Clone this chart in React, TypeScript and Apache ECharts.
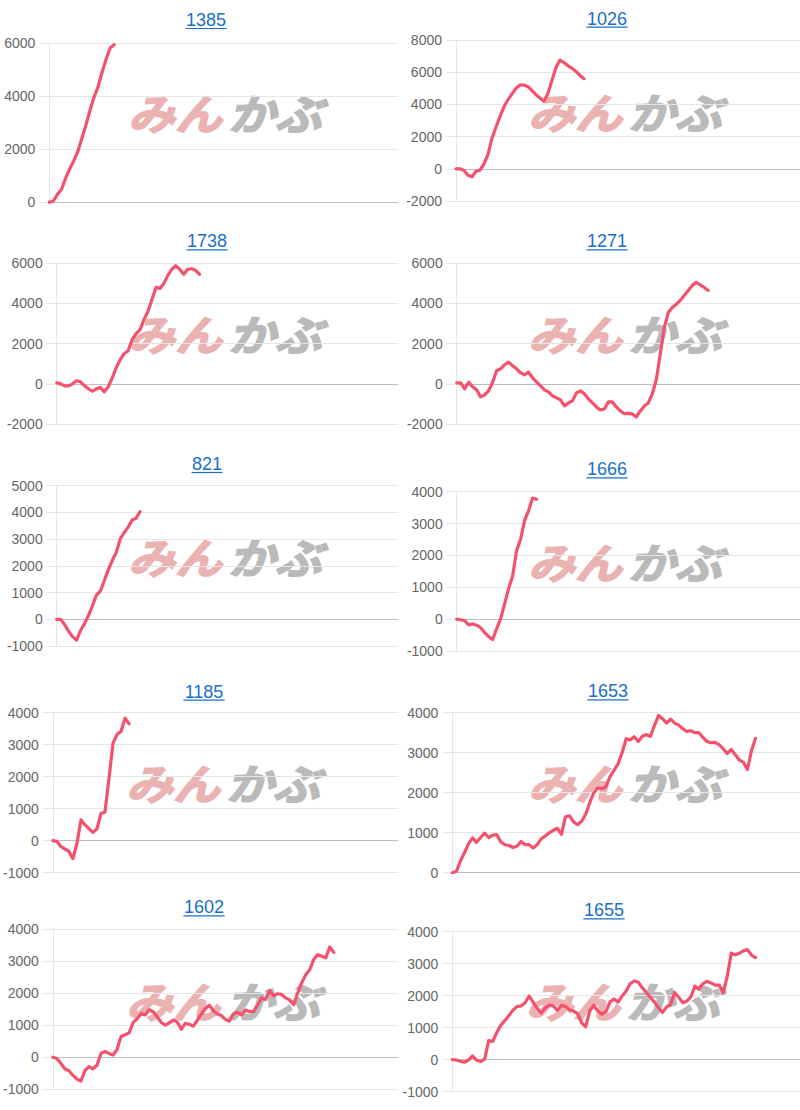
import React, { useEffect, useRef } from "react";
import * as echarts from "echarts";

// ---- data ----
const days = Array.from({ length: 87 }, (_, i) => String(i + 1));
const titles = ["1385", "1026", "1738", "1271", "821", "1666", "1185", "1653", "1602", "1655"];

const s1385 = [0, 50, 300, 480, 900, 1250, 1550, 1900, 2400, 2900, 3450, 3950, 4350, 4900, 5400, 5820, 5950];
const s1026 = [0, 0, -100, -400, -500, -150, -80, 300, 900, 1900, 2600, 3250, 3850, 4300, 4650, 5000, 5200, 5200, 5100, 4850, 4600, 4400, 4200, 4700, 5500, 6300, 6750, 6600, 6400, 6250, 6050, 5800, 5600];
const s1738 = [50, 0, -100, -100, 0, 150, 100, -100, -250, -370, -250, -180, -400, -150, 300, 800, 1200, 1500, 1650, 2200, 2500, 2700, 3200, 3600, 4200, 4800, 4750, 5000, 5400, 5700, 5880, 5700, 5450, 5700, 5730, 5650, 5450];
const s1271 = [50, 50, -250, 80, -150, -300, -650, -550, -350, 80, 650, 750, 950, 1080, 900, 750, 550, 450, 580, 300, 100, -100, -300, -400, -600, -700, -800, -1100, -950, -850, -450, -350, -500, -750, -950, -1150, -1300, -1250, -900, -900, -1150, -1350, -1480, -1470, -1500, -1650, -1350, -1100, -950, -500, 200, 1500, 2800, 3550, 3800, 3950, 4150, 4400, 4650, 4900, 5050, 4930, 4800, 4650];
const s821 = [0, 0, -200, -450, -650, -780, -420, -170, 140, 500, 900, 1050, 1450, 1850, 2200, 2500, 3000, 3250, 3450, 3720, 3780, 4030];
const s1666 = [0, -20, -50, -180, -150, -190, -270, -420, -550, -640, -300, 0, 480, 950, 1350, 2150, 2500, 3100, 3400, 3800, 3760];
const s1185 = [0, -20, -180, -260, -330, -560, -100, 650, 500, 380, 260, 370, 850, 900, 1950, 3050, 3320, 3420, 3830, 3650];
const s1653 = [0, 30, 290, 500, 720, 870, 760, 880, 990, 880, 940, 950, 770, 700, 680, 630, 660, 780, 700, 700, 620, 700, 850, 920, 1000, 1060, 1110, 960, 1400, 1420, 1270, 1200, 1290, 1460, 1750, 2000, 2120, 2100, 2150, 2400, 2560, 2720, 3000, 3350, 3320, 3400, 3280, 3410, 3450, 3410, 3680, 3930, 3850, 3740, 3840, 3740, 3690, 3600, 3530, 3550, 3500, 3500, 3380, 3280, 3250, 3260, 3200, 3100, 2980, 3080, 2950, 2820, 2760, 2580, 3050, 3360];
const s1602 = [0, -40, -190, -360, -420, -560, -680, -740, -420, -290, -360, -250, 120, 180, 120, 70, 240, 650, 700, 760, 1080, 1200, 1360, 1320, 1480, 1420, 1260, 1090, 1000, 1070, 1160, 1100, 870, 1060, 1030, 970, 1150, 1350, 1520, 1620, 1450, 1350, 1300, 1180, 1130, 1350, 1400, 1320, 1470, 1430, 1420, 1620, 1850, 1800, 2080, 1920, 1980, 1960, 1850, 1790, 1640, 2000, 2320, 2570, 2730, 3050, 3200, 3150, 3100, 3440, 3270];
const s1655 = [0, -10, -50, -80, -10, 120, -10, -60, 20, 600, 570, 850, 1080, 1220, 1380, 1550, 1660, 1680, 1780, 1990, 1800, 1600, 1460, 1620, 1710, 1680, 1540, 1700, 1660, 1560, 1520, 1440, 1150, 1030, 1530, 1700, 1520, 1420, 1500, 1800, 1900, 1800, 1990, 2150, 2380, 2460, 2420, 2250, 2100, 1950, 1800, 1620, 1480, 1650, 1730, 2100, 1950, 1780, 1830, 1960, 2300, 2200, 2380, 2450, 2400, 2330, 2330, 2100, 2600, 3330, 3280, 3330, 3400, 3440, 3270, 3190];

const seriesData = [s1385, s1026, s1738, s1271, s821, s1666, s1185, s1653, s1602, s1655];
const yMin = [0, -2000, -2000, -2000, -1000, -1000, -1000, 0, -1000, -1000];
const yMax = [6000, 8000, 6000, 6000, 5000, 4000, 4000, 4000, 4000, 4000];
const yStep = [2000, 2000, 2000, 2000, 1000, 1000, 1000, 1000, 1000, 1000];

// ---- layout (pixels) ----
const layout = [
  { gl: 49.3, gt: 43.3, gb: 202.3, gr: 398, tx: 206, ty: 20, wx: 128, wy: 112 },
  { gl: 456, gt: 40, gb: 201, gr: 800, tx: 607, ty: 18.7, wx: 528, wy: 111 },
  { gl: 56.7, gt: 263.3, gb: 424, gr: 398, tx: 207, ty: 241.3, wx: 128, wy: 333 },
  { gl: 456.7, gt: 263.3, gb: 424, gr: 800, tx: 607, ty: 241.3, wx: 528, wy: 333 },
  { gl: 56.7, gt: 485.7, gb: 646, gr: 398, tx: 207, ty: 464, wx: 128, wy: 556 },
  { gl: 456.7, gt: 491.7, gb: 651, gr: 800, tx: 607, ty: 469.3, wx: 528, wy: 561 },
  { gl: 52.3, gt: 712.7, gb: 872.7, gr: 398, tx: 204, ty: 691.7, wx: 126, wy: 782 },
  { gl: 452.3, gt: 712.7, gb: 872.7, gr: 800, tx: 608, ty: 691.3, wx: 528, wy: 782 },
  { gl: 52.3, gt: 929, gb: 1089.3, gr: 398, tx: 204, ty: 907.3, wx: 126, wy: 1000 },
  { gl: 452.3, gt: 931.7, gb: 1091.7, gr: 800, tx: 604, ty: 910.3, wx: 526, wy: 1000 },
];

const LINE = "#f4516c";
const GRID = "#e6e6e6";
const ZERO = "#bdbdbd";
const LINK = "#1a6fc9";
const FONT = "Arial, 'Liberation Sans', Helvetica, sans-serif";

export default function App() {
  const ref = useRef<HTMLDivElement>(null);

  useEffect(() => {
    if (!ref.current) return;
    const chart = echarts.init(ref.current, undefined, { renderer: "svg" });

    const grid = layout.map((l) => ({
      left: l.gl,
      top: l.gt,
      width: l.gr - l.gl,
      height: l.gb - l.gt,
      containLabel: false,
    }));

    const xAxis = layout.map((_, i) => ({
      type: "category",
      gridIndex: i,
      data: days,
      boundaryGap: false,
      axisLabel: { show: false },
      axisTick: { show: false },
      splitLine: { show: false },
      axisLine: { show: true, onZero: true, lineStyle: { color: ZERO, width: 1 } },
    }));

    const yAxis = layout.map((_, i) => ({
      type: "value",
      gridIndex: i,
      min: yMin[i],
      max: yMax[i],
      interval: yStep[i],
      axisLine: { show: true, lineStyle: { color: GRID, width: 1 } },
      axisTick: { show: true, length: 10, lineStyle: { color: GRID } },
      splitLine: { show: true, lineStyle: { color: GRID, width: 1 } },
      axisLabel: {
        color: "#666",
        fontSize: 14,
        fontFamily: FONT,
        margin: 14,
        formatter: (v: number) => String(v),
      },
    }));

    const series = seriesData.map((d, i) => ({
      type: "line",
      xAxisIndex: i,
      yAxisIndex: i,
      data: d,
      showSymbol: false,
      symbol: "none",
      z: 5,
      lineStyle: { color: LINE, width: 3.2, join: "round", cap: "round" },
      itemStyle: { color: LINE },
    }));

    const title = titles.map((t, i) => ({
      text: t,
      left: layout[i].tx,
      top: layout[i].ty,
      textAlign: "center",
      textVerticalAlign: "middle",
      padding: 0,
      textStyle: { color: LINK, fontSize: 18, fontWeight: "normal", fontFamily: FONT },
    }));

    const graphic: any[] = [];
    titles.forEach((t, i) => {
      const l = layout[i];
      const w = t.length * 10.3;
      graphic.push({
        type: "line",
        z: 10,
        shape: { x1: l.tx - w / 2, y1: l.ty + 8.5, x2: l.tx + w / 2, y2: l.ty + 8.5 },
        style: { stroke: LINK, lineWidth: 1.2 },
      });
      graphic.push({
        type: "text",
        z: 0,
        x: l.wx,
        y: l.wy,
        scaleX: 1.12,
        style: {
          text: "みん",
          fill: "#ebb2b2",
          stroke: "#ebb2b2",
          lineWidth: 1.5,
          font: "italic bold 42px 'Noto Sans CJK JP', sans-serif",
          textAlign: "left",
          textVerticalAlign: "middle",
        },
      });
      graphic.push({
        type: "text",
        z: 0,
        x: l.wx + 100,
        y: l.wy,
        scaleX: 1.12,
        style: {
          text: "かぶ",
          fill: "#bababa",
          stroke: "#bababa",
          lineWidth: 1.5,
          font: "italic bold 42px 'Noto Sans CJK JP', sans-serif",
          textAlign: "left",
          textVerticalAlign: "middle",
        },
      });
    });

    chart.setOption({
      animation: false,
      backgroundColor: "#ffffff",
      title,
      grid,
      xAxis,
      yAxis,
      series,
      graphic,
    } as any);

    return () => chart.dispose();
  }, []);

  return (
    <div
      ref={ref}
      style={{ position: "absolute", left: 0, top: 0, width: 800, height: 1110 }}
    />
  );
}
